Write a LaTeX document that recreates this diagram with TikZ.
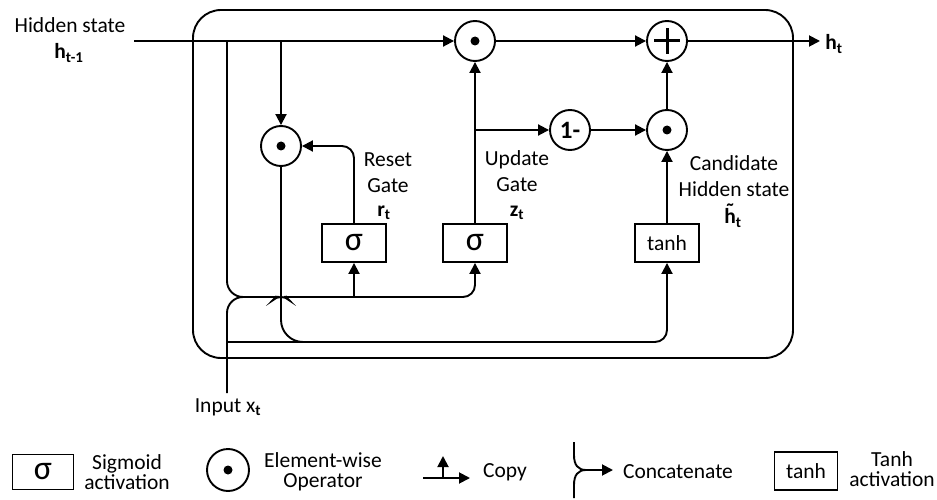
\documentclass[tikz,border=0pt]{standalone}
\usepackage{fontspec}
\setmainfont{Carlito}
\usetikzlibrary{arrows.meta}

\begin{document}
\begin{tikzpicture}[x=1pt,y=-1pt,line width=1.9pt,
  font=\fontsize{21.5}{26}\selectfont,
  arr/.style={-{Triangle[length=11pt,width=11pt]}},
  opnode/.style={circle,draw,minimum size=40pt,inner sep=0pt},
  dotop/.style={opnode,path picture={\fill (path picture bounding box.center) circle (4.5pt);}},
  plusop/.style={opnode,path picture={\draw[line width=3pt] ([xshift=-13pt]path picture bounding box.center) -- ([xshift=13pt]path picture bounding box.center) ([yshift=-13pt]path picture bounding box.center) -- ([yshift=13pt]path picture bounding box.center);}},
  gatebox/.style={draw,minimum width=64pt,minimum height=38pt,inner sep=0pt},
  sig/.style={gatebox,font=\fontsize{34}{34}\selectfont},
  lbl/.style={align=center,inner sep=0pt},
  leglbl/.style={align=center,inner sep=0pt,font=\fontsize{21.5}{20}\selectfont}]
\useasboundingbox (0,0) rectangle (937,500);

\draw[rounded corners=28pt] (193,10) rectangle (793,358);

\node[dotop] (mulh) at (475,41) {};
\node[plusop] (plus) at (667,41) {};
\node[opnode,font=\bfseries\fontsize{25}{25}\selectfont] (one) at (570,130) {1-};
\node[dotop] (mulc) at (667,130) {};
\node[dotop] (mulr) at (281,146) {};
\node[sig] (sigr) at (354,243) {σ};
\node[sig] (sigz) at (475,243) {σ};
\node[gatebox] (tanhn) at (667,243) {tanh};

\coordinate (hin) at (134,41);
\coordinate (hout) at (820,41);
\coordinate (hc) at (227,41);
\coordinate (xin) at (227,393);
\coordinate (cat) at (255,297);
\coordinate (cj) at (227,342);

\draw[arr] (hin) -- (mulh);
\draw[arr] (mulh) -- (plus);
\draw[arr] (plus) -- (hout);
\draw[arr] (mulr |- hin) -- (mulr);

\draw[rounded corners=16pt] (hc) |- (cat);
\draw[rounded corners=16pt] (xin) |- (cat);
\draw[arr,rounded corners=12pt] (cat) -- (267,297) .. controls (274,297) and (278,295) .. (281,292) .. controls (284,295) and (288,297) .. (296,297) -| (sigz);
\draw[arr] (sigr |- cat) -- (sigr);
\draw[arr,rounded corners=12pt] (sigr) |- (mulr);
\draw[rounded corners=22pt] (mulr) |- (330,342);
\draw[arr,rounded corners=12pt] (cj) -| (tanhn);

\draw[arr] (sigz) -- (mulh);
\draw[arr] (sigz |- one) -- (one);
\draw[arr] (one) -- (mulc);
\draw[arr] (tanhn) -- (mulc);
\draw[arr] (mulc) -- (plus);

\node[lbl] (hidlbl) at (70,25) {Hidden state};
\node (hprev) at (69,53) {\textbf{h\textsubscript{t-1}}};
\node[lbl] (resetlbl) at (388,173) {Reset\\Gate};
\node (rt) at (384,213) {\textbf{r\textsubscript{t}}};
\node[lbl] (updlbl) at (517,171) {Update\\Gate};
\node (zt) at (517,213) {\textbf{z\textsubscript{t}}};
\node[lbl] (candlbl) at (734,176) {Candidate\\Hidden state};
\node[inner sep=1pt] (htil) at (733,218) {\textbf{\ooalign{h\cr\hidewidth\raisebox{0.24em}{\char"02DC}\hidewidth\cr}\textsubscript{t}}};
\node (hnext) at (834,44) {\textbf{h\textsubscript{t}}};
\node (xlbl) at (228,407) {Input x\textsubscript{\textbf{t}}};

\node[sig,minimum width=61pt,minimum height=35pt] (legsig) at (43,472) {σ};
\node[leglbl] (legsigt) at (127,472) {Sigmoid\\activation};
\node[dotop,minimum size=42pt] (legdot) at (228,470) {};
\node[leglbl] (legdott) at (323,472) {Element-wise\\Operator};
\coordinate (cpo) at (423,478);
\coordinate (cpr) at (470,478);
\coordinate (cpm) at (443,478);
\coordinate (cpu) at (443,456);
\draw[arr] (cpo) -- (cpr);
\draw[arr] (cpm) -- (cpu);
\node (legcpt) at (505,472) {Copy};
\coordinate (ccu) at (574,442);
\coordinate (ccd) at (574,498);
\coordinate (ccm) at (586,470);
\coordinate (cce) at (613,470);
\draw (ccu) -- (574,455) .. controls (574,465) and (578,470) .. (ccm);
\draw (ccd) -- (574,485) .. controls (574,475) and (578,470) .. (ccm);
\draw[arr] (ccm) -- (cce);
\node (legcat) at (678,472) {Concatenate};
\node[gatebox,minimum width=63pt] (legtanh) at (806,471) {tanh};
\node[leglbl] (legtanht) at (892,469) {Tanh\\activation};
\end{tikzpicture}
\end{document}
